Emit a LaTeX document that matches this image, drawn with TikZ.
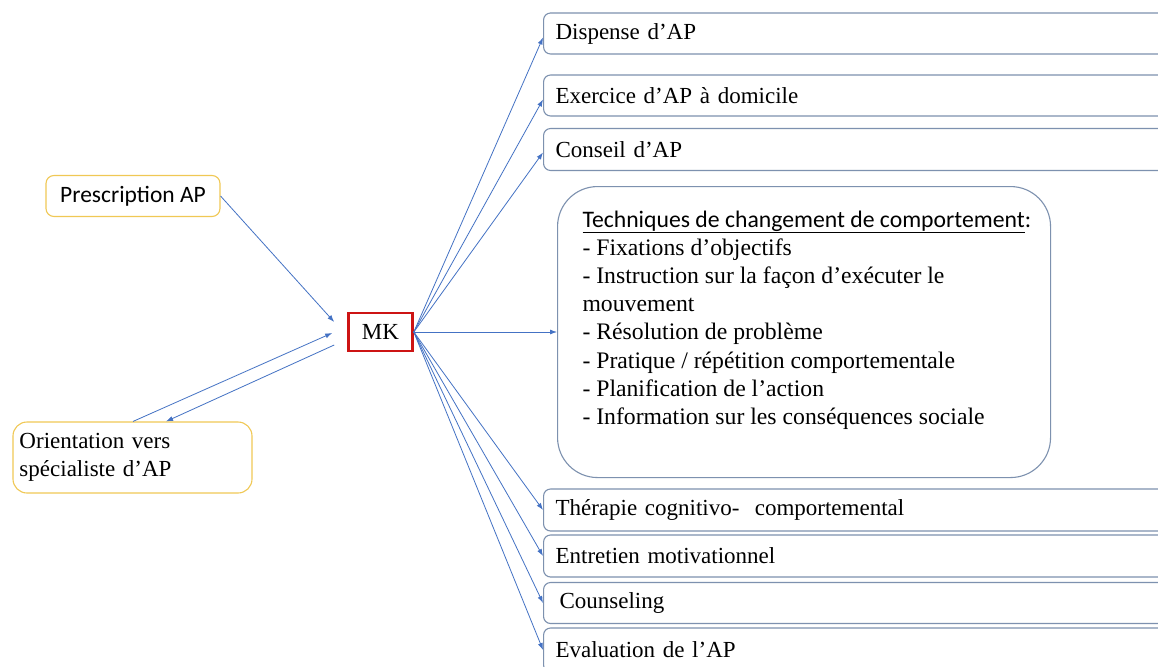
\documentclass[tikz,border=0pt]{standalone}
\usepackage{fontspec}
\setmainfont{Liberation Serif}
\newfontfamily\calibri{Carlito}
\usetikzlibrary{arrows.meta}

\definecolor{linkblue}{RGB}{68,114,196}
\definecolor{boxline}{RGB}{125,145,175}
\definecolor{gold}{RGB}{240,200,85}
\definecolor{mkred}{RGB}{205,20,20}

\tikzset{
  textsize/.style={font=\fontsize{23}{28}\selectfont},
  rbox/.style={draw=boxline, line width=1.1pt, rounded corners=7pt, fill=white,
    anchor=west, inner xsep=12pt, inner ysep=0pt, text width=636pt, align=left,
    textsize},
  gbox/.style={draw=gold, line width=1.1pt, fill=white, inner sep=0pt, textsize},
  link/.style={draw=linkblue, line width=0.8pt, -{Latex[length=7pt,width=5pt]}},
}

\begin{document}
\begin{tikzpicture}[x=1pt,y=-1pt]
\clip (0,0) rectangle (1158,666);
\fill[white] (0,0) rectangle (1158,666);

% left side
\node[gbox, rounded corners=8pt, minimum width=174pt, minimum height=41pt,
      font=\calibri\fontsize{23.5}{28}\selectfont] (pres) at (133,196) {Prescription AP};
\node[gbox, rounded corners=14pt, minimum width=239pt, minimum height=71pt,
      text width=226pt, align=left] (orient) at (132.5,457.5)
      {Orientation vers\\spécialiste d’AP};

% central node
\node[draw=mkred, line width=2.6pt, minimum width=64pt, minimum height=38pt,
      inner sep=0pt, textsize] (mk) at (380.5,332) {MK};

% right column
\node[rbox, minimum height=41pt] (disp) at (543,33.5) {Dispense d’AP};
\node[rbox, minimum height=41pt] (exer) at (543,95.5) {Exercice d’AP à domicile};
\node[rbox, minimum height=42pt] (cons) at (543,149.5) {Conseil d’AP};

\node[draw=boxline, line width=1.1pt, rounded corners=40pt, fill=white,
      inner sep=0pt, anchor=north west] (tcc) at (557,186)
{\begin{minipage}[c][291pt][t]{493pt}
\leftskip=25pt\parindent=0pt\fontsize{23.7}{28.2}\selectfont
\vspace*{24pt}
{\calibri\underline{Techniques de changement de comportement}:}\par
- Fixations d’objectifs\par
- Instruction sur la façon d'exécuter le\par
mouvement\par
- Résolution de problème\par
- Pratique / répétition comportementale\par
- Planification de l’action\par
- Information sur les conséquences sociale\par
\end{minipage}};

\node[rbox, minimum height=42pt] (ther) at (543,510) {Thérapie cognitivo-~ comportemental};
\node[rbox, minimum height=42pt] (entr) at (543,556) {Entretien motivationnel};
\node[rbox, minimum height=41pt] (coun) at (543,603) {\hspace{4pt}Counseling};
\node[rbox, minimum height=44pt] (eval) at (543,650) {Evaluation de l’AP};

% connectors on the left
\draw[link] (pres.east) -- ([xshift=-13pt,yshift=10pt]mk.west);
\draw[link] ([xshift=0.5pt]orient.north) -- ([xshift=-15pt,yshift=-1pt]mk.west);
\draw[link] ([xshift=-13pt,yshift=-13pt]mk.west) -- ([xshift=33.5pt]orient.north);

% fan to the right column
\draw[link] (mk.east) -- ([yshift=-4pt]disp.west);
\draw[link] (mk.east) -- ([yshift=-4pt]exer.west);
\draw[link] (mk.east) -- ([yshift=-3pt]cons.west);
\draw[link] (mk.east) -- (tcc.west |- mk.east);
\draw[link] (mk.east) -- (ther.west);
\draw[link] (mk.east) -- (entr.west);
\draw[link] (mk.east) -- (coun.west);
\draw[link] (mk.east) -- (eval.west);
\end{tikzpicture}
\end{document}
